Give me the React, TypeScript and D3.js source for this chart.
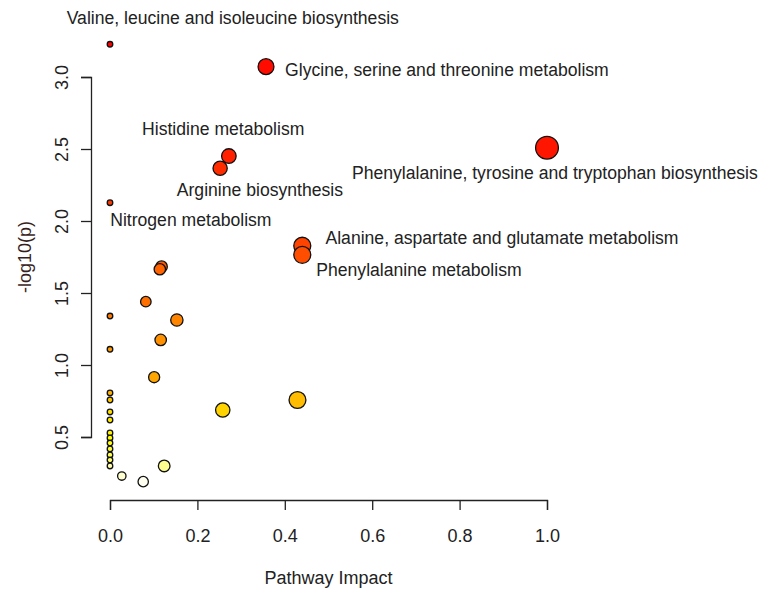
import { useEffect, useRef } from 'react';
import * as d3 from 'd3';

// one entry per pathway, ordered by significance (most significant first)
const impact = [
  0, 0.357, 1.0, 0.272, 0.252, 0, 0.44, 0.44, 0.118, 0.114, 0.082, 0, 0.153, 0.116, 0, 0.101,
  0, 0.429, 0, 0.258, 0, 0, 0, 0, 0, 0, 0, 0, 0.124, 0, 0.027, 0.076,
];
const logP = [
  3.227, 3.072, 2.509, 2.451, 2.366, 2.127, 1.828, 1.765, 1.683, 1.665, 1.44, 1.34, 1.3125, 1.174, 1.109, 0.915,
  0.806, 0.757, 0.757, 0.6875, 0.674, 0.618, 0.528, 0.493, 0.458, 0.417, 0.375, 0.34, 0.299, 0.299, 0.229, 0.19,
];

// annotated pathways, label centre given in data units
const labelNames = [
  'Valine, leucine and isoleucine biosynthesis',
  'Glycine, serine and threonine metabolism',
  'Histidine metabolism',
  'Phenylalanine, tyrosine and tryptophan biosynthesis',
  'Arginine biosynthesis',
  'Nitrogen metabolism',
  'Alanine, aspartate and glutamate metabolism',
  'Phenylalanine metabolism',
];
const labelX = [0.281, 0.771, 0.259, 1.018, 0.343, 0.185, 0.897, 0.707];
const labelY = [3.41, 3.049, 2.639, 2.333, 2.215, 2.007, 1.882, 1.66];

const xTicks = [0, 0.2, 0.4, 0.6, 0.8, 1.0];
const yTicks = [0.5, 1.0, 1.5, 2.0, 2.5, 3.0];

const FONT = 'Liberation Sans, Arial, sans-serif';
const INK = '#222';

// R's heat.colors(n): red -> yellow, then fading yellows
function heatColors(n: number): string[] {
  const j = Math.floor(n / 4);
  const i = n - j;
  const out: string[] = [];
  for (let k = 0; k < i; k++) {
    const h = i > 1 ? (k / (i - 1)) * 60 : 0;
    out.push(d3.rgb(255, Math.round((h / 60) * 255), 0).formatHex());
  }
  for (let k = 0; k < j; k++) {
    const s = j > 1 ? (1 - 1 / (2 * j)) - k * ((1 - 1 / j) / (j - 1)) : 0.5;
    out.push(d3.rgb(255, 255, Math.round((1 - s) * 255)).formatHex());
  }
  return out;
}

export default function App() {
  const svgRef = useRef<SVGSVGElement>(null);

  useEffect(() => {
    if (!svgRef.current) return;
    const W = 766, H = 595;
    const svg = d3.select(svgRef.current).attr('width', W).attr('height', H);
    svg.selectAll('*').remove();

    const x = d3.scaleLinear().domain([0, 1]).range([110, 547]);
    const y = d3.scaleLinear().domain([0.5, 3.0]).range([437, 77]);
    const r = d3.scaleSqrt().domain([0, 1]).range([2.8, 11.4]);

    const data = impact.map((v, k) => ({ impact: v, logP: logP[k] }));
    const order = d3.range(data.length).sort((a, b) => data[b].logP - data[a].logP);
    const colors = heatColors(data.length);
    const fill = new Map<number, string>();
    order.forEach((idx, rank) => fill.set(idx, colors[rank]));

    // x axis
    svg.append('g')
      .attr('transform', 'translate(0,500)')
      .call(d3.axisBottom(x).tickValues(xTicks).tickSize(10).tickFormat(d3.format('.1f')))
      .call(g => g.selectAll('path,line').attr('stroke', INK).attr('stroke-width', 1.3))
      .call(g => g.selectAll('text')
        .attr('font-family', FONT).attr('font-size', 18).attr('fill', INK)
        .attr('y', 42).attr('dy', 0));

    // y axis, labels parallel to the axis
    svg.append('g')
      .attr('transform', 'translate(91,0)')
      .call(d3.axisLeft(y).tickValues(yTicks).tickSize(10).tickFormat(d3.format('.1f')))
      .call(g => g.selectAll('path,line').attr('stroke', INK).attr('stroke-width', 1.3))
      .call(g => g.selectAll('text')
        .attr('font-family', FONT).attr('font-size', 18).attr('fill', INK)
        .attr('text-anchor', 'middle')
        .attr('transform', 'rotate(-90)')
        .attr('x', 0).attr('y', -23).attr('dy', 0));

    svg.append('text')
      .attr('x', 328.5).attr('y', 584)
      .attr('text-anchor', 'middle')
      .attr('font-family', FONT).attr('font-size', 18).attr('fill', INK)
      .text('Pathway Impact');

    svg.append('text')
      .attr('transform', 'translate(31,257) rotate(-90)')
      .attr('text-anchor', 'middle')
      .attr('font-family', FONT).attr('font-size', 18).attr('fill', '#3a1f1f')
      .text('-log10(p)');

    // pathways, most significant drawn first
    svg.append('g')
      .selectAll('circle')
      .data(order)
      .enter().append('circle')
      .attr('cx', k => x(data[k].impact))
      .attr('cy', k => y(data[k].logP))
      .attr('r', k => r(data[k].impact))
      .attr('fill', k => fill.get(k)!)
      .attr('stroke', '#111')
      .attr('stroke-width', 1.3);

    svg.append('g')
      .selectAll('text')
      .data(labelNames)
      .enter().append('text')
      .attr('x', (_, k) => x(labelX[k]))
      .attr('y', (_, k) => y(labelY[k]) + 6)
      .attr('text-anchor', 'middle')
      .attr('font-family', FONT).attr('font-size', 17.6).attr('fill', INK)
      .text(d => d);
  }, []);

  return (
    <div style={{ position: 'absolute', left: 0, top: 0, background: '#fff' }}>
      <svg ref={svgRef} style={{ display: 'block' }} />
    </div>
  );
}
